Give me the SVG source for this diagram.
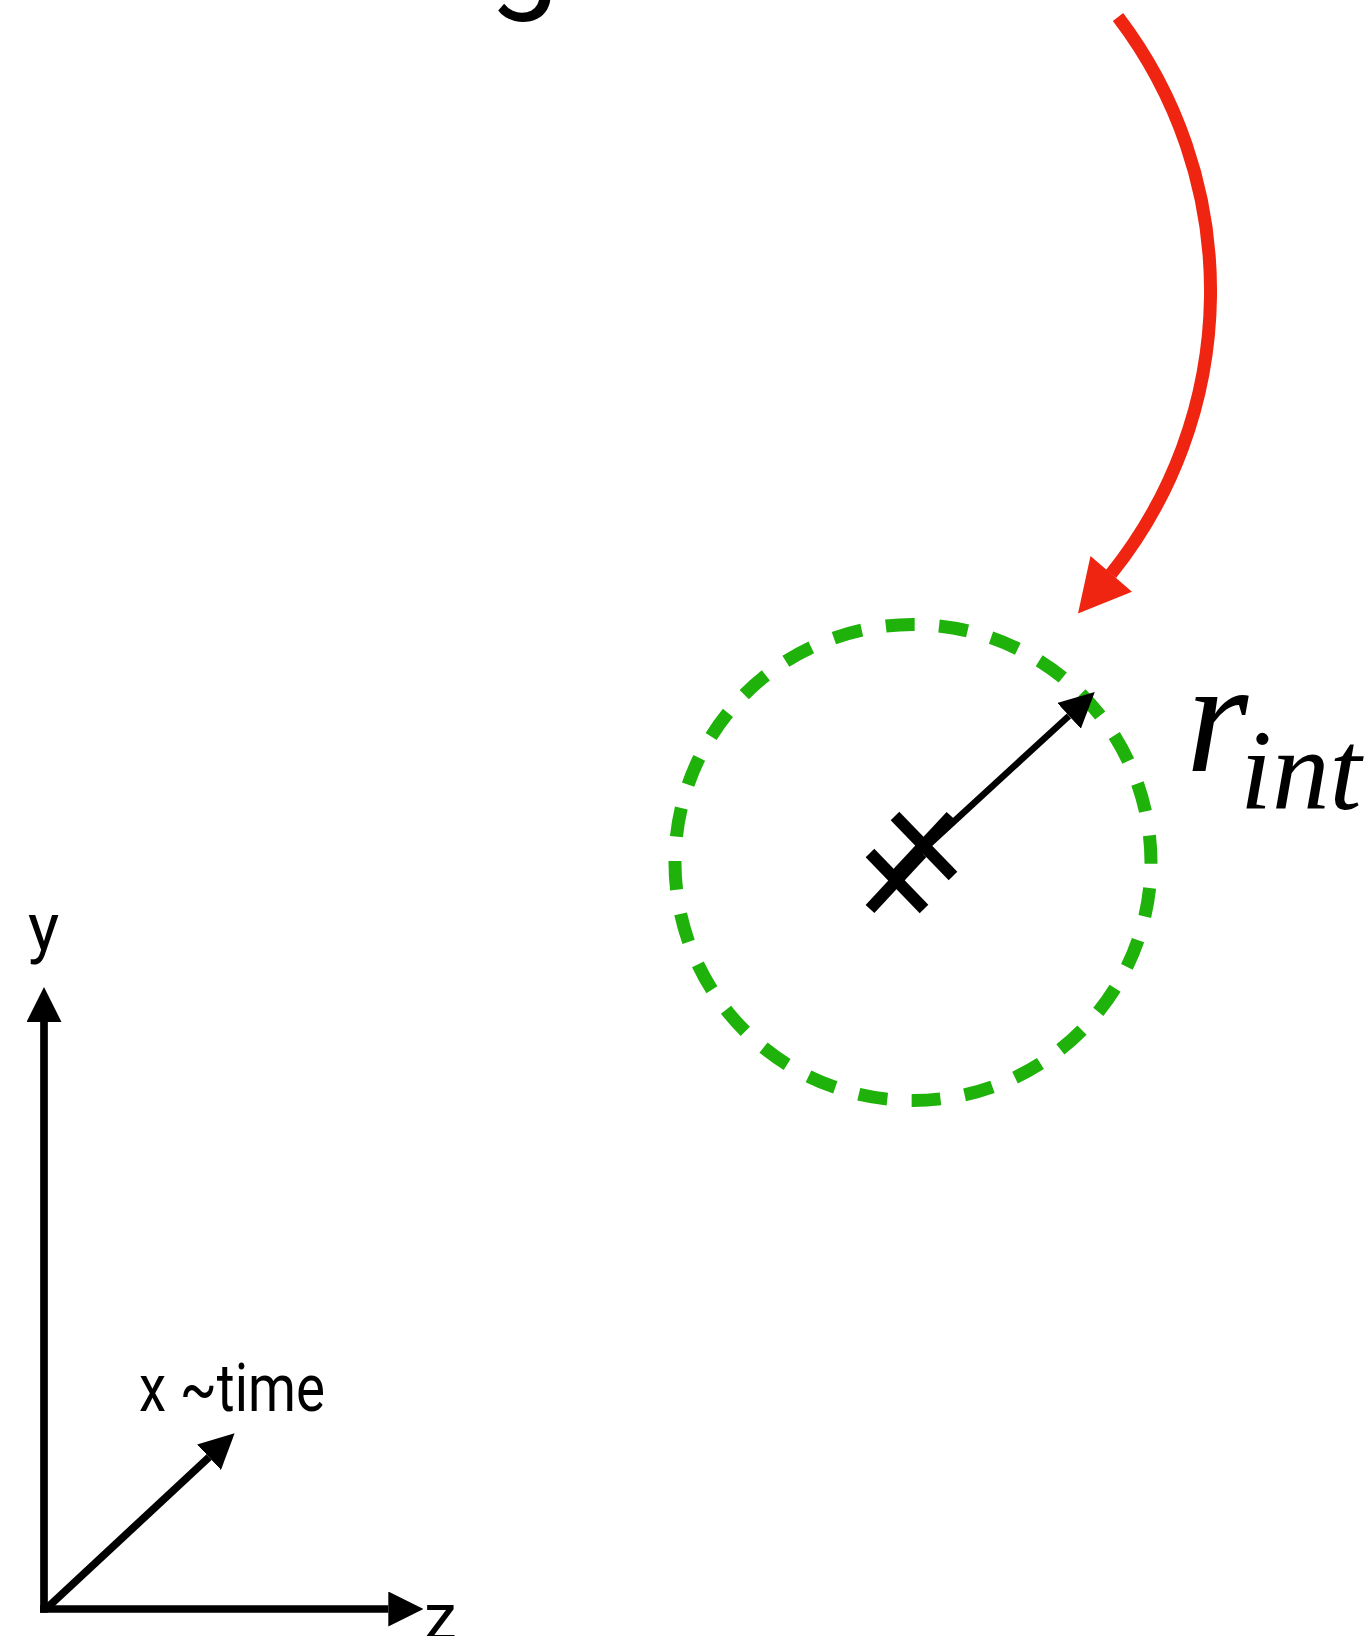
<svg xmlns="http://www.w3.org/2000/svg" width="1367" height="1636" viewBox="0 0 1367 1636">
  <style>
    .sans { font-family: Roboto, "Liberation Sans", sans-serif; fill: #000; }
    .math { font-family: "Liberation Serif", "DejaVu Serif", serif; font-style: italic; fill: #000; }
    .axis { stroke: #000; stroke-width: 7.7; fill: none; }
    .xmark { stroke: #000; stroke-width: 12; stroke-linecap: butt; }
  </style>
  <defs>
    <marker id="ah" viewBox="0 0 35 35" refX="0" refY="17.5" markerWidth="35" markerHeight="35" markerUnits="userSpaceOnUse" orient="auto">
      <path d="M0,0 L35,17.5 L0,35 z" fill="#000"/>
    </marker>
  </defs>
  <rect width="1367" height="1636" fill="#fff"/>

  <g id="title-fragment">
    <text class="sans" x="489" y="-4.5" font-size="125">g</text>
  </g>

  <g id="interaction-circle">
    <circle cx="913" cy="862.5" r="238" fill="none" stroke="#1fb20a" stroke-width="13" stroke-dasharray="29 24.41" stroke-dashoffset="-25.6"/>
  </g>

  <g id="centre-marks">
    <line class="xmark" x1="895" y1="816" x2="953" y2="876"/>
    <line class="xmark" x1="951" y1="816" x2="895" y2="876"/>
    <line class="xmark" x1="870" y1="853" x2="924" y2="909"/>
    <line class="xmark" x1="922" y1="853" x2="870" y2="909"/>
  </g>

  <g id="label-rint">
    <text class="math" x="1186" y="771" font-size="160">r</text>
    <text class="math" x="1240" y="809" font-size="115">int</text>
  </g>

  <g id="axis-labels">
    <text class="sans" x="28" y="950" font-size="66">y</text>
    <text class="sans" x="139" y="1411" font-size="66" textLength="186" lengthAdjust="spacingAndGlyphs">x ~time</text>
    <text class="sans" x="424" y="1640" font-size="66">z</text>
  </g>

  <g id="connectors">
    <path d="M1118,17 A452,452 0 0 1 1111,574" fill="none" stroke="#ef2511" stroke-width="13"/>
    <polygon points="1078,613.6 1090.5,556 1132,591.7" fill="#ef2511"/>
    <line x1="899" y1="872" x2="1069" y2="715.8" stroke="#000" stroke-width="6.5" marker-end="url(#ah)"/>
    <line class="axis" x1="44" y1="1612.7" x2="44" y2="1022" marker-end="url(#ah)"/>
    <line class="axis" x1="40" y1="1609" x2="388.3" y2="1609" marker-end="url(#ah)"/>
    <line class="axis" x1="46.7" y1="1608.3" x2="209" y2="1457.2" marker-end="url(#ah)"/>
  </g>
</svg>
